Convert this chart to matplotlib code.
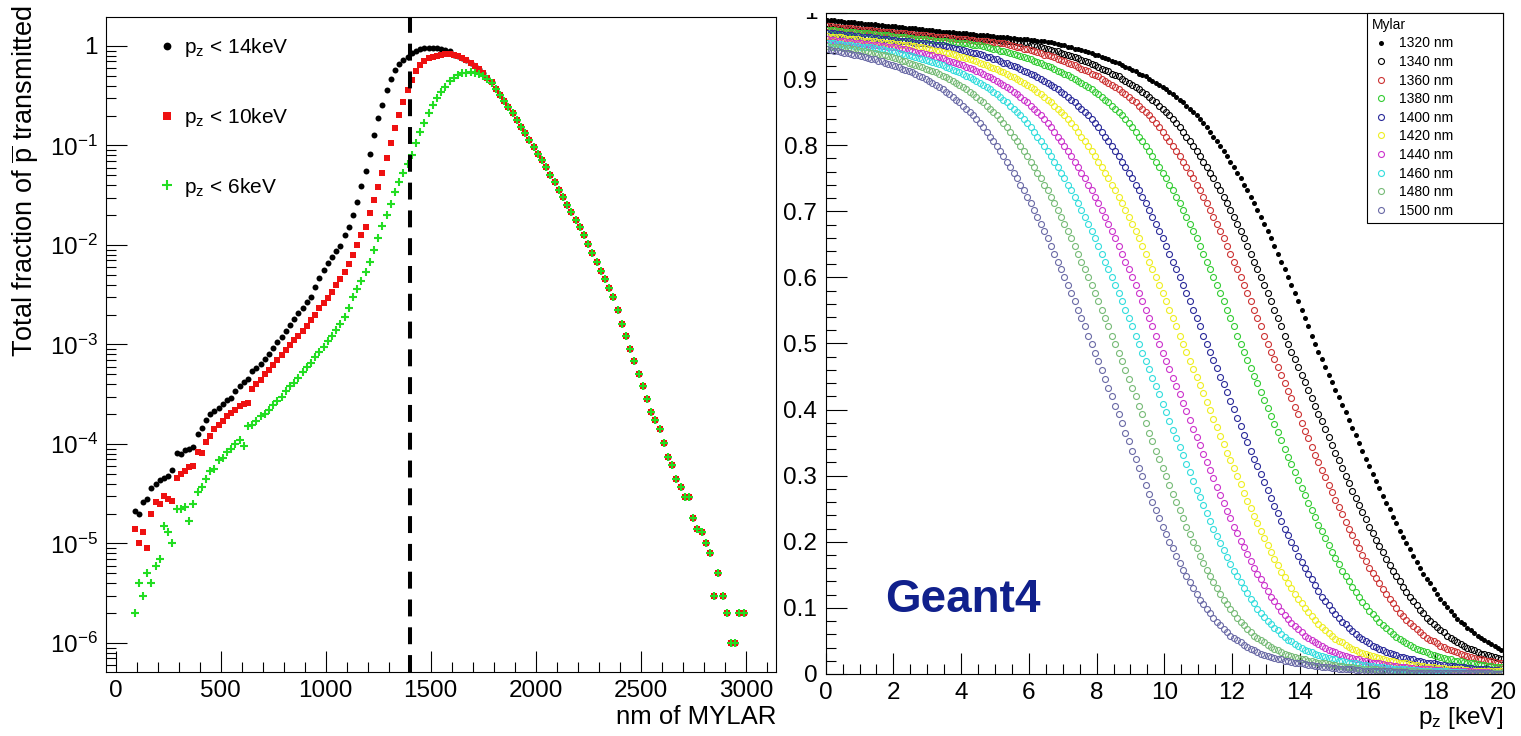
import numpy as np
import matplotlib
matplotlib.use("Agg")
import matplotlib.pyplot as plt
from matplotlib.ticker import FixedLocator, MultipleLocator, LogLocator, FuncFormatter, NullFormatter
from matplotlib.transforms import Bbox, TransformedBbox

plt.rcParams['font.family'] = ['Liberation Sans', 'DejaVu Sans']
plt.rcParams['mathtext.fontset'] = 'custom'
plt.rcParams['mathtext.rm'] = 'Liberation Sans'
plt.rcParams['mathtext.it'] = 'Liberation Sans:italic'
plt.rcParams['mathtext.bf'] = 'Liberation Sans:bold'
plt.rcParams['mathtext.default'] = 'regular'

# ---------------- left panel: fraction transmitted vs thickness ----------------
# thickness bins: 90, 110, ... nm (20 nm steps)
low_14 = [2.1e-5, 2.0e-5, 2.6e-5, 2.8e-5, 3.6e-5, 4.0e-5, 4.3e-5, 4.5e-5, 4.8e-5, 5.5e-5,
          8.2e-5, 8.0e-5, 8.8e-5, 8.9e-5, 9.4e-5, 1.25e-4, 1.45e-4, 1.75e-4, 2.0e-4, 2.15e-4,
          2.3e-4, 2.55e-4, 2.75e-4, 2.9e-4, 3.4e-4, 3.8e-4, 4.2e-4, 4.5e-4, 5.4e-4, 5.8e-4,
          6.3e-4, 7.2e-4, 8.0e-4, 9.2e-4, 1.05e-3, 1.2e-3, 1.38e-3, 1.58e-3, 1.8e-3, 2.05e-3,
          2.35e-3, 2.7e-3, 3.0e-3, 3.8e-3, 4.7e-3, 5.6e-3, 6.6e-3, 7.5e-3, 8.6e-3, 9.8e-3,
          0.0125, 0.0153, 0.020, 0.027, 0.039, 0.055, 0.083, 0.128, 0.187, 0.255,
          0.36, 0.47, 0.57, 0.66, 0.73, 0.78, 0.85, 0.90, 0.93, 0.95,
          0.95, 0.95, 0.945, 0.935, 0.92, 0.88]
low_10 = [1.4e-5, 1.0e-5, 1.3e-5, 9e-6, 2.0e-5, 2.6e-5, 2.5e-5, 3.0e-5, 2.8e-5, 2.7e-5,
          4.5e-5, 5.0e-5, 5.3e-5, 5.9e-5, 6.0e-5, 8.3e-5, 8.2e-5, 1.05e-4, 1.2e-4, 1.4e-4,
          1.55e-4, 1.7e-4, 1.9e-4, 2.05e-4, 2.2e-4, 2.4e-4, 2.5e-4, 2.6e-4, 3.6e-4, 4.0e-4,
          4.4e-4, 5.0e-4, 5.6e-4, 6.2e-4, 7.0e-4, 7.9e-4, 8.8e-4, 9.9e-4, 1.1e-3, 1.22e-3,
          1.38e-3, 1.55e-3, 1.75e-3, 2.0e-3, 2.3e-3, 2.6e-3, 2.9e-3, 3.4e-3, 4.0e-3, 4.6e-3,
          5.4e-3, 6.5e-3, 7.9e-3, 0.010, 0.0126, 0.0153, 0.021, 0.028, 0.0386, 0.0525,
          0.074, 0.105, 0.149, 0.203, 0.276, 0.36, 0.46, 0.56, 0.64, 0.70,
          0.75, 0.78, 0.80, 0.82, 0.83, 0.83]
mid_10 = [0.82, 0.80, 0.76, 0.72, 0.68, 0.63, 0.585, 0.535, 0.48, 0.43]
low_6 = [2e-6, 4e-6, 3e-6, 5e-6, 4e-6, 6e-6, 7e-6, 1.5e-5, 1.3e-5, 1.0e-5,
         2.2e-5, 2.2e-5, 2.3e-5, 1.7e-5, 2.5e-5, 3.3e-5, 3.7e-5, 4.4e-5, 5.3e-5, 5.6e-5,
         6.9e-5, 7.2e-5, 8.4e-5, 9.0e-5, 1.0e-4, 1.1e-4, 9.5e-5, 1.5e-4, 1.55e-4, 1.7e-4,
         1.9e-4, 2.0e-4, 2.2e-4, 2.45e-4, 2.7e-4, 3.0e-4, 3.4e-4, 3.8e-4, 4.1e-4, 4.6e-4,
         5.3e-4, 5.9e-4, 6.5e-4, 7.4e-4, 8.4e-4, 9.5e-4, 1.08e-3, 1.22e-3, 1.4e-3, 1.6e-3,
         1.9e-3, 2.3e-3, 3.0e-3, 3.6e-3, 4.3e-3, 5.4e-3, 6.8e-3, 9.0e-3, 0.0118, 0.0155,
         0.020, 0.026, 0.034, 0.043, 0.053, 0.065, 0.080, 0.105, 0.138, 0.17,
         0.21, 0.255, 0.30, 0.345, 0.39, 0.44, 0.48, 0.51, 0.53, 0.54,
         0.545, 0.54, 0.525, 0.50, 0.465, 0.42]
# common tail from 1810 nm on (all three coincide)
tail_all = [0.37, 0.32, 0.28, 0.245, 0.212, 0.181, 0.155, 0.132, 0.113, 0.097,
            0.083, 0.071, 0.0605, 0.051, 0.043, 0.036, 0.0305, 0.0255, 0.0215, 0.018,
            0.0152, 0.0125, 0.0102, 0.0083, 0.0068, 0.0055, 0.0045, 0.0037, 0.0030, 0.0022,
            0.0016, 0.00123, 0.00091, 0.00068, 5.0e-4, 3.8e-4, 2.8e-4, 2.1e-4, 1.74e-4, 1.41e-4,
            1.02e-4, 7.4e-5, 6.2e-5, 4.4e-5, 3.7e-5, 2.9e-5, 2.9e-5, 1.8e-5, 1.4e-5, 1.3e-5,
            1.0e-5, 8e-6, 3e-6, 5e-6, 3e-6, 2e-6, 1e-6, 1e-6, 2e-6, 2e-6]

frac_14 = low_14 + mid_10 + tail_all
frac_10 = low_10 + mid_10 + tail_all
frac_6 = low_6 + tail_all

# ---------------- right panel: transmitted fraction vs pz (per mille) ----------------
labels_nm = ['1320 nm', '1340 nm', '1360 nm', '1380 nm', '1400 nm',
             '1420 nm', '1440 nm', '1460 nm', '1480 nm', '1500 nm']
colors = ['black', 'black', '#cc3333', '#33cc33', '#2a2a99',
          '#eeee22', '#cc33cc', '#33dddd', '#77bb77', '#6a6aa6']

t1320 = [990,989,989,988,988,987,987,986,986,985,985,984,984,983,983,982,982,981,981,980,
         980,979,979,978,978,977,977,976,976,975,974,974,973,973,972,972,971,971,970,970,
         969,969,968,968,967,967,966,966,965,965,964,964,963,963,962,962,961,961,960,960,
         959,959,958,958,957,956,
         956,955,953,952,951,949,948,946,945,944,942,941,939,937,936,934,932,930,927,926,
         924,921,919,917,914,912,908,906,904,900,
         897,894,891,888,885,881,877,873,869,865,860,855,850,845,840,834,827,820,813,806,
         799,791,783,775,767,758,750,740,732,722,713,702,692,681,670,659,648,636,624,613,
         601,588,576,564,551,538,526,512,500,
         487,476,465,453,441,430,419,407,396,384,372,361,349,337,326,315,303,292,281,270,
         259,249,238,228,217,207,198,189,178,170,161,152,144,137,129,121,114,108,102,95,
         90,83,78,75,70,66,62,57,54,51,48,45,43,40,37]
t1340 = [985,984,984,983,983,982,982,981,981,980,980,979,979,978,978,977,977,976,976,975,
         975,974,974,973,973,972,972,971,970,970,969,969,968,968,967,967,966,966,965,965,
         964,964,963,963,962,962,961,961,960,960,959,959,958,958,957,957,956,955,
         955,954,952,951,950,948,947,946,944,943,942,940,938,937,935,933,932,929,927,926,
         923,921,919,916,914,912,908,906,904,900,
         897,894,891,888,885,881,877,873,869,865,860,855,850,845,840,834,827,820,813,806,
         799,791,783,775,767,758,750,740,732,722,713,702,692,681,670,659,648,636,624,613,
         601,588,576,564,551,538,526,512,500,
         487,476,464,453,441,429,417,405,394,382,370,358,346,334,323,311,300,289,277,266,
         255,245,234,223,213,203,194,184,174,165,156,148,140,132,124,116,110,104,97,92,
         85,80,75,71,66,63,58,54,51,49,46,42,40,38,36,34,31,30,28,27,25,24,23]
t1360 = [980,980,979,979,978,978,977,977,976,976,975,975,974,974,973,973,972,972,971,971,
         970,970,969,969,968,968,967,967,966,966,965,965,964,964,963,963,962,962,961,961,
         960,960,959,959,958,958,957,957,956,956,955,955,
         954,953,951,950,949,948,946,945,944,942,941,940,937,936,935,933,931,929,927,925,
         923,921,918,916,914,912,908,906,904,900,
         897,894,891,888,885,881,877,873,869,865,860,855,850,845,840,834,827,820,813,806,
         799,791,783,775,767,758,750,740,732,722,713,702,692,681,670,659,648,636,624,613,
         601,588,576,564,551,538,526,512,500,
         487,476,464,452,440,428,417,404,393,380,368,357,344,332,321,309,298,286,275,263,
         252,242,230,220,210,199,190,180,171,161,153,145,137,129,121,113,107,100,93,88,
         82,77,73,68,64,59,55,52,50,47,43,41,38,36,35,33,30,28,27,26,24,23,22,21,20,19,
         18,17,16]
t1380 = [975,974,974,973,973,972,972,971,971,970,970,969,969,968,968,967,967,966,966,965,
         964,964,963,963,962,962,961,961,960,960,959,959,958,958,957,957,956,956,955,955,
         954,954,953,952,
         952,951,950,948,947,946,945,943,942,941,940,938,936,935,934,932,930,928,926,925,
         922,920,918,916,913,911,908,906,903,900,
         897,894,891,888,885,881,877,873,869,865,860,855,850,845,840,834,827,820,813,806,
         799,791,783,775,767,758,750,740,732,722,713,702,692,681,670,659,648,636,624,613,
         601,588,576,564,551,538,526,512,500,
         487,475,463,451,440,427,415,402,391,378,366,354,341,329,318,306,294,282,271,259,
         248,238,226,216,206,195,185,175,166,156,148,140,132,124,116,109,103,96,91,84,
         78,74,69,65,60,56,53,50,47,44,41,38,36,35,33,30,28,27,26,24,23,22,20,20,19,18,
         17,16,16,15,14,13,12,12,11,10,10]
t1400 = [970,969,969,968,968,967,967,966,965,965,964,964,963,963,962,962,961,960,960,959,
         959,958,958,957,957,956,955,955,954,954,953,953,952,952,
         951,950,949,947,946,945,944,943,941,940,939,938,936,934,933,931,930,928,925,924,
         922,920,918,915,913,911,908,906,903,900,
         897,894,891,888,885,881,877,873,869,865,860,855,850,845,840,834,827,820,813,806,
         799,791,783,775,767,758,750,740,732,722,713,702,692,681,670,659,648,636,624,613,
         601,588,576,564,551,538,526,512,500,
         487,475,463,450,438,426,413,401,388,375,362,351,338,326,314,302,290,278,266,254,
         243,232,220,210,199,190,179,170,160,151,143,134,126,117,110,104,97,91,84,79,
         75,69,65,61,56,53,50,47,43,41,38,36,34,32,30,28,26,25,24,23,22,20,20,18,17,16,
         16,15,14,13,12,12,12,11,10,10,9,9,8,8,7,7,7,6,6,6,5]
t1420 = [965,964,964,963,963,962,961,961,960,960,959,958,958,957,957,956,956,955,954,954,
         953,953,952,951,951,950,950,
         949,948,947,946,944,943,942,941,940,939,938,937,934,933,932,930,929,927,925,923,
         921,919,917,915,913,911,908,905,903,900,
         897,894,891,888,885,881,877,873,869,865,860,855,850,845,840,834,827,820,813,806,
         799,791,783,775,767,758,750,740,732,722,713,702,692,681,670,659,648,636,624,613,
         601,588,576,564,551,538,526,512,500,
         487,474,462,449,437,425,412,399,386,373,360,348,335,323,311,299,287,274,262,251,
         239,228,217,206,195,185,174,165,155,147,138,130,121,113,107,100,94,87,81,76,
         71,66,62,57,53,50,48,44,41,38,36,34,32,30,28,27,25,24,23,21,20,20,18,17,16,16,
         15,14,13,12,12,11,10,10,9,9,9,8,8,7,7,7,6,6,5,5,5,5,4,4,4,4,4,4]
t1440 = [960,959,959,958,958,957,956,956,955,955,954,953,953,952,952,951,950,950,949,949,
         948,947,946,945,944,942,941,940,939,938,937,936,934,933,932,929,928,926,924,923,
         921,919,917,915,913,910,907,905,903,900,
         897,894,891,888,885,881,877,873,869,865,860,855,850,845,840,834,827,820,813,806,
         799,791,783,775,767,758,750,740,732,722,713,702,692,681,670,659,648,636,624,613,
         601,588,576,564,551,538,526,512,500,
         486,474,462,448,436,423,410,398,384,371,358,346,333,320,308,296,283,271,259,247,
         236,223,213,201,192,181,171,160,151,143,135,126,117,110,103,96,90,83,77,73,
         68,64,58,54,51,48,45,42,39,37,35,33,30,28,27,25,24,23,22,20,20,18,17,16,16,15,
         14,13,12,12,11,10,10,9,9,8,8,7,7,7,6,6,6,5,5,5,5,4,4,4,4,4,3,3,3,3,3,2,2,2,2]
t1460 = [955,954,954,953,953,952,952,951,950,950,949,949,948,948,
         947,946,945,944,943,942,941,940,938,937,936,935,933,932,931,929,928,926,924,923,
         921,919,917,914,912,910,907,905,903,900,
         897,894,891,888,885,881,877,873,869,865,860,855,850,845,840,834,827,820,813,806,
         799,791,783,775,767,758,750,740,732,722,713,702,692,681,670,659,648,636,624,613,
         601,588,576,564,551,538,526,512,500,
         486,474,461,448,435,423,409,396,383,369,357,344,331,318,306,292,279,268,256,244,
         232,220,209,198,188,177,167,156,148,139,130,122,113,107,99,93,86,80,75,70,
         66,61,56,52,50,46,43,40,37,35,33,30,29,27,26,24,23,22,20,20,18,17,16,16,15,14,
         13,12,12,11,10,10,9,9,8,8,7,7,7,6,6,6,5,5,5,5,4,4,4,4,4,3,3,3,3,3,2,2,2,2,
         2,2,2,2,2,2,1]
t1480 = [950,949,949,948,948,947,947,
         946,945,944,943,942,941,940,939,938,937,936,935,933,932,931,
         928,927,925,923,922,920,918,916,914,912,910,907,905,903,900,
         897,894,891,888,885,881,877,873,869,865,860,855,850,845,840,834,827,820,813,806,
         799,791,783,775,767,758,750,740,732,722,713,702,692,681,670,659,648,636,624,613,
         601,588,576,564,551,538,526,512,500,486,
         473,460,446,433,420,406,393,379,365,352,338,325,312,299,286,273,260,248,236,223,
         212,200,190,178,168,157,148,139,130,121,112,106,98,92,84,78,74,68,64,58,
         54,51,48,44,41,38,36,34,31,29,27,26,24,23,22,20,20,18,17,16,
         16,15,14,13,12,12,11,10,10,9,9,8,8,7,7,7,6,6,5,5,
         5,5,4,4,4,4,4,3,3,3,3,3,2,2,2,2,2,2,2,2,2,2,1,1,1,1,1,1,1,1,1,1,1]
t1500 = [945,944,943,942,941,940,939,938,937,936,935,934,932,931,930,928,927,925,923,922,
         920,918,916,914,912,910,907,905,903,900,
         897,894,891,888,885,881,877,873,869,865,860,855,850,845,840,834,827,820,813,806,
         799,791,783,775,767,758,750,740,732,722,713,702,692,681,670,659,648,636,624,613,
         601,588,576,564,551,538,526,512,500,486,
         473,460,446,433,420,406,393,379,365,352,338,325,312,299,286,273,260,248,236,223,
         212,200,190,178,168,157,148,139,130,121,112,106,98,92,84,78,74,68,64,58,
         54,51,48,44,41,38,36,34,31,29,27,26,24,23,22,20,20,18,17,16,
         16,15,14,13,12,12,11,10,10,9,9,8,8,7,7,7,6,6,5,5,
         5,5,4,4,4,4,4,3,3,3,3,3,2,2,2,2,2,2,2,2,2,2,1,1,1,1,1,1,1,1,
         1,1,1,1,1,1,1,0,0,0]
trans = [t1320, t1340, t1360, t1380, t1400, t1420, t1440, t1460, t1480, t1500]


def root_style(ax):
    for s in ax.spines.values():
        s.set_linewidth(0.8)
    ax.tick_params(which='both', direction='in', top=False, right=False,
                   labelsize=17.5, width=0.8, pad=6)
    ax.tick_params(which='major', length=15)
    ax.tick_params(which='minor', length=7.5)


fig = plt.figure(figsize=(15.21, 7.36), dpi=100)
ax1 = fig.add_axes([106 / 1521, 1 - 672 / 736, 670 / 1521, 655 / 736])
ax2 = fig.add_axes([825.7 / 1521, 1 - 674 / 736, 677.3 / 1521, 661 / 736])

# left
x_nm = 90 + 20 * np.arange(len(frac_14))
ax1.plot(x_nm, frac_14, 'o', color='black', ms=4.3, mew=0, label=r'p$_{z}$ < 14keV')
x_nm = 90 + 20 * np.arange(len(frac_10))
ax1.plot(x_nm, frac_10, 's', color='#ee1111', ms=4.6, mew=0, label=r'p$_{z}$ < 10keV')
x_nm = 90 + 20 * np.arange(len(frac_6))
ax1.plot(x_nm, frac_6, '+', color='#22dd22', ms=5.5, mew=1.5, label=r'p$_{z}$ < 6keV')
ax1.axvline(1400, color='black', lw=2.9, ls=(0, (4.2, 2.7)))

ax1.set_yscale('log')
ax1.set_xlim(-46, 3144)
ax1.set_ylim(5.11e-7, 1.955)
ax1.yaxis.set_major_locator(FixedLocator([1e-6, 1e-5, 1e-4, 1e-3, 1e-2, 1e-1, 1]))
ax1.yaxis.set_major_formatter(FuncFormatter(
    lambda v, _: '1' if v > 0.5 else r'$10^{%d}$' % int(round(np.log10(v)))))
ax1.yaxis.set_minor_locator(LogLocator(base=10, subs=np.arange(2, 10), numticks=50))
ax1.yaxis.set_minor_formatter(NullFormatter())
ax1.xaxis.set_major_locator(MultipleLocator(500))
ax1.xaxis.set_minor_locator(MultipleLocator(100))
root_style(ax1)

ax1.set_xlabel('nm of MYLAR', fontsize=18.5, loc='right')
ax1.xaxis.set_label_coords(1.0, -0.05)
ax1.set_ylabel(r'Total fraction of $\overline{p}$ transmitted', fontsize=19.5, loc='top')
ax1.yaxis.set_label_coords(-0.097, 1.018)

ax1.legend(loc='upper left', bbox_to_anchor=(0.077, 0.971), frameon=False, fontsize=15,
           handlelength=0.9, handletextpad=0.35, labelspacing=2.25, borderpad=0,
           borderaxespad=0, numpoints=1, markerscale=1.3)

# right
for vals, lab, col in zip(trans, labels_nm, colors):
    x_kev = 0.05 + 0.1 * np.arange(len(vals))
    y = np.array(vals) / 1000.0
    if lab == '1320 nm':
        ax2.plot(x_kev, y, 'o', color=col, ms=3.6, mew=0, label=lab)
    else:
        ax2.plot(x_kev, y, 'o', mfc='none', mec=col, ms=4.3, mew=0.8, label=lab)

ax2.set_xlim(0, 20)
ax2.set_ylim(0, 1.0)
ax2.xaxis.set_major_locator(MultipleLocator(2))
ax2.xaxis.set_minor_locator(MultipleLocator(0.5))
ax2.yaxis.set_major_locator(MultipleLocator(0.1))
ax2.yaxis.set_minor_locator(MultipleLocator(0.02))
ax2.yaxis.set_major_formatter(FuncFormatter(
    lambda v, _: '0' if abs(v) < 1e-9 else ('' if abs(v - 1) < 1e-9 else '%.1f' % v)))
root_style(ax2)
# the "1" label at the top is cut by the pad edge
top_lbl = ax2.text(-0.0123, 1.0, '1', transform=ax2.transAxes, ha='right', va='center',
                   fontsize=17.5, clip_on=True)
top_lbl.set_clip_box(TransformedBbox(Bbox([[0, 0], [1, 1 - 13 / 736]]), fig.transFigure))

ax2.set_xlabel(r'p$_{z}$ [keV]', fontsize=17.5, loc='right')
ax2.xaxis.set_label_coords(1.0, -0.047)

ax2.text(1.75, 0.094, 'Geant4', fontsize=33, fontweight='bold', color='#10208c',
         ha='left', va='baseline')

leg = ax2.legend(title='Mylar', loc='upper left', bbox_to_anchor=(0.799, 0.687, 0.201, 0.313),
                 mode='expand', borderaxespad=0, fontsize=10, title_fontsize=10,
                 alignment='left', handlelength=1.4, handletextpad=0.55, labelspacing=0.33,
                 fancybox=False, framealpha=1, edgecolor='black', numpoints=1, borderpad=0.35)
leg.get_frame().set_linewidth(0.8)

fig.savefig('out.png', dpi=100)
